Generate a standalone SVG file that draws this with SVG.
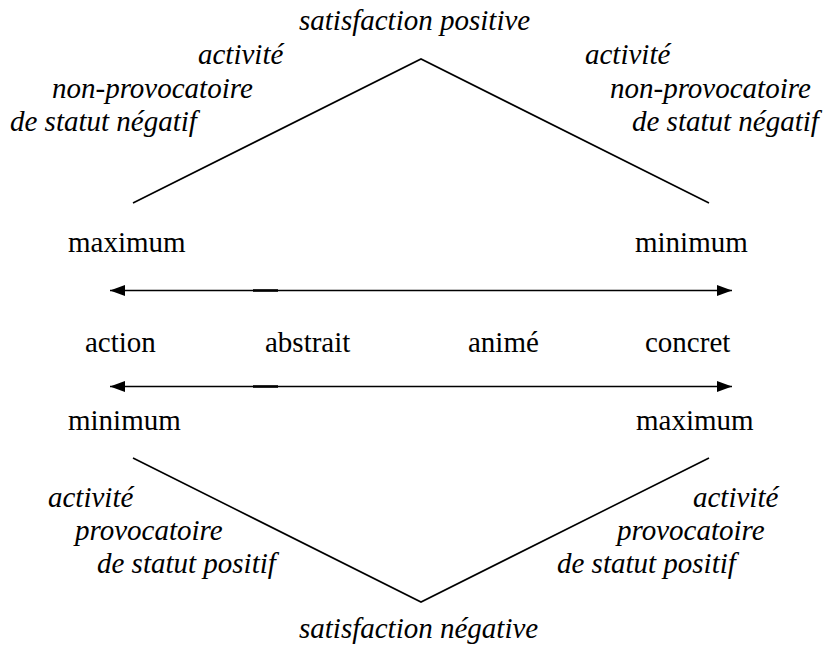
<svg xmlns="http://www.w3.org/2000/svg" width="837" height="648" viewBox="0 0 837 648">
<style>
.t{font-family:'Liberation Serif','Times New Roman',serif;font-size:29px}
.i{font-family:'Liberation Serif','Times New Roman',serif;font-size:29px;font-style:italic}
</style>
<defs>
<marker id="ah" markerUnits="userSpaceOnUse" markerWidth="16" markerHeight="12" refX="15" refY="5.5" orient="auto-start-reverse" viewBox="0 0 16 11">
<path d="M0,0 L15,5.5 L0,11 z" fill="#000"/>
</marker>
</defs>
<g id="connectors" stroke="#000" fill="none">
<polyline stroke-width="1.6" points="133,203 421,59 709,203"/>
<polyline stroke-width="1.6" points="133,458 421,602 709,458"/>
<line stroke-width="1.6" x1="110" y1="290.5" x2="732" y2="290.5" marker-start="url(#ah)" marker-end="url(#ah)"/>
<line stroke-width="2.6" x1="253" y1="290.5" x2="278" y2="290.5"/>
<line stroke-width="1.6" x1="110" y1="386.5" x2="732" y2="386.5" marker-start="url(#ah)" marker-end="url(#ah)"/>
<line stroke-width="2.6" x1="253" y1="386.5" x2="278" y2="386.5"/>
</g>
<g id="satisfaction-positive"><text class="i" font-family="serif" x="299" y="30">satisfaction positive</text></g>
<g id="label-top-left">
<text class="i" font-family="serif" x="198" y="64">activité</text>
<text class="i" font-family="serif" x="52" y="98">non-provocatoire</text>
<text class="i" font-family="serif" x="10" y="131">de statut négatif</text>
</g>
<g id="label-top-right">
<text class="i" font-family="serif" x="585" y="64">activité</text>
<text class="i" font-family="serif" x="610" y="98">non-provocatoire</text>
<text class="i" font-family="serif" x="632" y="131">de statut négatif</text>
</g>
<g id="row-top">
<text class="t" font-family="serif" x="68" y="252">maximum</text>
<text class="t" font-family="serif" x="635" y="252">minimum</text>
</g>
<g id="row-middle">
<text class="t" font-family="serif" x="85" y="352">action</text>
<text class="t" font-family="serif" x="265" y="352">abstrait</text>
<text class="t" font-family="serif" x="468" y="352">animé</text>
<text class="t" font-family="serif" x="645" y="352">concret</text>
</g>
<g id="row-bottom">
<text class="t" font-family="serif" x="68" y="430">minimum</text>
<text class="t" font-family="serif" x="636" y="430">maximum</text>
</g>
<g id="label-bottom-left">
<text class="i" font-family="serif" x="48" y="507">activité</text>
<text class="i" font-family="serif" x="75" y="540">provocatoire</text>
<text class="i" font-family="serif" x="97" y="573">de statut positif</text>
</g>
<g id="label-bottom-right">
<text class="i" font-family="serif" x="693" y="507">activité</text>
<text class="i" font-family="serif" x="617" y="540">provocatoire</text>
<text class="i" font-family="serif" x="557" y="573">de statut positif</text>
</g>
<g id="satisfaction-negative"><text class="i" font-family="serif" x="299" y="638">satisfaction négative</text></g>
</svg>
